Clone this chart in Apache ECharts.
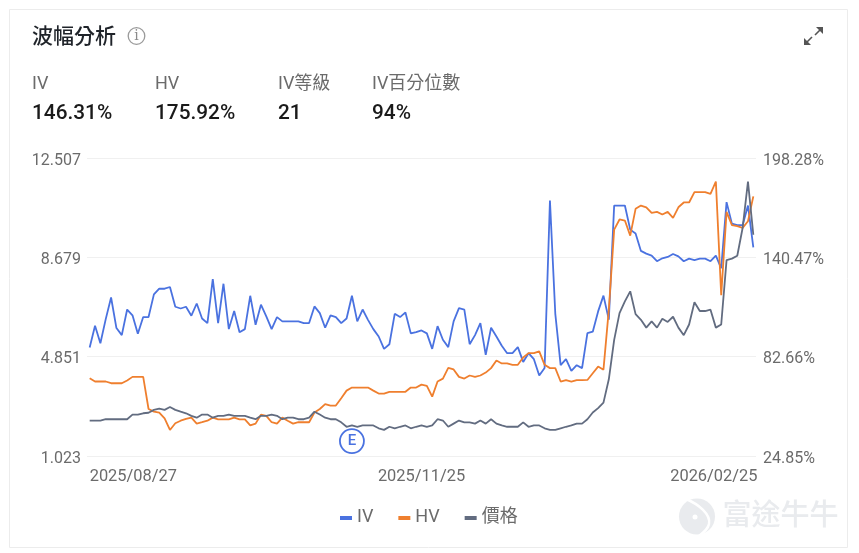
<!DOCTYPE html>
<html><head><meta charset="utf-8">
<style>html,body{margin:0;padding:0;background:#fff}#c{width:859px;height:553px}</style>
<script src="https://cdn.jsdelivr.net/npm/echarts@6/dist/echarts.min.js"></script>
</head><body><div id="c"></div>
<script>
const dates = ["2025/08/27","2025/08/28","2025/08/29",
"2025/09/02","2025/09/03","2025/09/04","2025/09/05","2025/09/08","2025/09/09","2025/09/10","2025/09/11","2025/09/12","2025/09/15","2025/09/16","2025/09/17","2025/09/18","2025/09/19","2025/09/22","2025/09/23","2025/09/24","2025/09/25","2025/09/26","2025/09/29","2025/09/30",
"2025/10/01","2025/10/02","2025/10/03","2025/10/06","2025/10/07","2025/10/08","2025/10/09","2025/10/10","2025/10/13","2025/10/14","2025/10/15","2025/10/16","2025/10/17","2025/10/20","2025/10/21","2025/10/22","2025/10/23","2025/10/24","2025/10/27","2025/10/28","2025/10/29","2025/10/30","2025/10/31",
"2025/11/04","2025/11/05","2025/11/06","2025/11/07","2025/11/10","2025/11/11","2025/11/12","2025/11/13","2025/11/14","2025/11/17","2025/11/18","2025/11/19","2025/11/20","2025/11/21","2025/11/24","2025/11/25","2025/11/26","2025/11/27","2025/11/28",
"2025/12/01","2025/12/02","2025/12/03","2025/12/04","2025/12/05","2025/12/08","2025/12/09","2025/12/10","2025/12/11","2025/12/12","2025/12/15","2025/12/16","2025/12/17","2025/12/18","2025/12/19","2025/12/22","2025/12/23","2025/12/24","2025/12/26","2025/12/29","2025/12/30","2025/12/31",
"2026/01/02","2026/01/05","2026/01/06","2026/01/07","2026/01/08","2026/01/09","2026/01/12","2026/01/13","2026/01/14","2026/01/15","2026/01/16","2026/01/20","2026/01/21","2026/01/22","2026/01/23","2026/01/26","2026/01/27","2026/01/28","2026/01/29","2026/01/30",
"2026/02/02","2026/02/03","2026/02/04","2026/02/05","2026/02/06","2026/02/09","2026/02/10","2026/02/11","2026/02/12","2026/02/13","2026/02/17","2026/02/18","2026/02/19","2026/02/20","2026/02/23","2026/02/24","2026/02/25"];
const dateLabels = ["2025/08/27","2025/11/25","2026/02/25"];
const ivValues = [88.0,100.6,90.5,104.5,117.1,99.3,95.2,110.1,106.7,96.0,105.7,105.7,118.9,122.2,122.2,123.2,111.7,110.7,111.7,106.5,113.6,104.9,102.2,127.8,102.2,125.1,98.7,109.2,96.9,98.7,118.1,101.2,112.9,106.1,98.7,105.7,103.2,103.2,103.2,103.2,102.2,102.2,111.9,108.0,99.5,106.7,105.7,102.2,104.9,118.1,103.2,
110.1,104.1,98.7,94.4,87.2,89.9,107.6,105.7,108.4,96.2,96.9,97.9,96.2,87.2,100.4,92.5,88.2,103.2,110.9,110.1,89.9,95.2,102.2,83.7,99.5,94.4,89.0,84.7,84.7,88.2,79.6,84.7,81.2,71.7,76.1,173.5,107.6,77.7,81.2,74.4,77.7,76.0,
96.4,97.2,109.0,118.2,104.2,170.6,170.6,170.6,156.6,154.3,144.2,142.6,141.5,138.2,139.9,140.7,142.4,141.0,138.2,139.7,138.9,139.7,139.7,138.2,141.5,134.1,172.6,160.1,159.2,159.2,170.6,146.31];
const hvValues = [70.1,68.2,68.2,68.2,67.2,67.2,67.2,68.8,70.9,70.9,70.9,52.2,50.7,50.1,46.8,40.0,43.9,45.4,46.4,47.2,43.7,44.5,45.4,47.2,46.2,46.2,46.2,47.2,46.2,46.2,42.7,43.7,48.9,48.2,44.5,43.7,47.2,45.4,43.7,44.5,44.5,44.5,50.1,52.2,55.0,54.2,54.2,58.5,62.9,64.7,64.7,
64.7,64.7,62.9,61.2,61.2,62.2,62.2,62.2,62.2,64.7,64.7,66.4,65.7,59.4,68.2,69.9,76.1,75.2,70.9,69.9,71.7,70.9,71.7,73.4,76.0,80.4,78.7,78.7,77.9,77.9,82.2,84.7,84.7,85.7,77.9,76.0,76.0,68.2,69.0,68.2,69.0,69.0,
69.1,73.0,76.9,75.1,110.0,156.6,162.5,161.9,153.1,168.7,170.6,169.6,166.3,166.9,165.4,166.9,163.4,169.6,172.4,172.4,178.4,178.4,178.4,177.4,184.6,118.5,166.9,159.2,158.6,157.6,161.5,175.92];
const priceValues = [2.39,2.39,2.39,2.44,2.44,2.44,2.44,2.44,2.62,2.62,2.67,2.69,2.80,2.85,2.80,2.91,2.80,2.73,2.67,2.57,2.50,2.62,2.62,2.50,2.57,2.57,2.62,2.57,2.57,2.57,2.50,2.44,2.57,2.57,2.62,2.57,2.44,2.50,2.50,2.44,2.44,2.50,2.73,2.62,2.50,2.44,2.44,2.32,2.15,2.20,2.15,
2.20,2.20,2.20,2.09,2.03,2.15,2.09,2.15,2.20,2.09,2.15,2.20,2.15,2.20,2.44,2.39,2.15,2.27,2.39,2.32,2.32,2.27,2.39,2.27,2.44,2.27,2.20,2.15,2.15,2.15,2.32,2.15,2.20,2.20,2.09,2.03,2.03,2.09,2.15,2.20,2.27,2.27,
2.44,2.70,2.87,3.08,3.98,5.50,6.53,6.98,7.37,6.49,6.27,5.97,6.21,5.97,6.31,6.19,6.39,5.97,5.68,6.09,6.95,6.61,6.61,6.66,5.97,6.09,8.57,8.63,8.74,9.81,11.60,9.55];
const leftTicks = [1.023,4.851,8.679,12.507];
const rightTicks = [24.85,82.66,140.47,198.28];
const earningsDate = "2025/11/06";
const earningsLevel = 1.6;
const kpis = [["IV","146.31%"],["HV","175.92%"],["IV等級","21"],["IV百分位數","94%"]];

const FF = 'Roboto,"Noto Sans CJK TC",sans-serif';
const kpiX = [32,155,278,372];
const GREY='#6b6b6b';
const gfx = [
 {type:'rect',shape:{x:9.5,y:9.5,width:838,height:538},style:{fill:'#fff',stroke:'#ececec',lineWidth:1},z:-10},
 {type:'text',x:32,y:27,style:{text:'波幅分析',font:'500 21px '+FF,fill:'#1f2329'}},
 {type:'circle',shape:{cx:136.5,cy:36,r:8.3},style:{fill:'none',stroke:'#9a9a9a',lineWidth:1.3}},
 {type:'text',x:136.5,y:36,style:{text:'i',font:'14px "DejaVu Serif"',fill:'#8a8a8a',align:'center',verticalAlign:'middle'}},
 {type:'polygon',shape:{points:[[816,27],[823,27],[823,34]]},style:{fill:'#555'}},
 {type:'line',shape:{x1:820,y1:30,x2:815,y2:35},style:{stroke:'#555',lineWidth:1.6}},
 {type:'polygon',shape:{points:[[804,38],[804,45],[811,45]]},style:{fill:'#555'}},
 {type:'line',shape:{x1:807,y1:42,x2:812,y2:37},style:{stroke:'#555',lineWidth:1.6}},
 {type:'circle',shape:{cx:697,cy:516.5,r:18},style:{fill:'#e9ebee'},z:-5},
 {type:'bezierCurve',shape:{x1:686,y1:499,cpx1:698,cpy1:504,cpx2:711,cpy2:514,x2:709,y2:524},style:{fill:'none',stroke:'#fff',lineWidth:2.5},z:-4},
 {type:'bezierCurve',shape:{x1:709,y1:524,cpx1:708,cpy1:529,cpx2:704,cpy2:532,x2:699,y2:536},style:{fill:'none',stroke:'#fff',lineWidth:2.5},z:-4},
 {type:'circle',shape:{cx:695,cy:517,r:2.5},style:{fill:'#fff'},z:-4},
 {type:'text',x:722.5,y:499,style:{text:'富途牛牛',font:'500 29px "Noto Sans CJK TC"',fill:'#e9ebee'},z:-5}
];
kpis.forEach((k,i)=>{
 gfx.push({type:'text',x:kpiX[i],y:76,style:{text:k[0],font:'18px '+FF,fill:GREY}});
 gfx.push({type:'text',x:kpiX[i],y:103,style:{text:k[1],font:'500 20.8px '+FF,fill:'#1a1a1a'}});
});
const mk = (name,data,color,axis,extra)=>Object.assign({name,type:'line',data,yAxisIndex:axis,showSymbol:false,symbol:'none',smooth:false,
  lineStyle:{color,width:1.8},itemStyle:{color},animation:false},extra||{});
const yBase = (ticks,fmt,margin)=>({type:'value',min:ticks[0],max:ticks[3],
  axisLine:{show:false},axisTick:{show:false,customValues:ticks},
  splitLine:{show:true,lineStyle:{color:'#f0f0f0',width:1}},
  axisLabel:{customValues:ticks,formatter:fmt,color:GREY,fontSize:16,fontFamily:FF,margin,verticalAlign:'top',lineHeight:5}});
const chart = echarts.init(document.getElementById('c'));
chart.setOption({
 animation:false,backgroundColor:'#fff',
 graphic:{elements:gfx},
 grid:{left:87,top:158,width:669,height:298,containLabel:false},
 legend:{left:340,top:509,padding:0,icon:'rect',itemWidth:12,itemHeight:4,itemGap:25,itemStyle:{borderWidth:0},
   textStyle:{color:GREY,fontSize:18,fontFamily:FF},data:['IV','HV','價格']},
 xAxis:{type:'category',data:dates,boundaryGap:true,
   axisLine:{show:false},axisTick:{show:false},splitLine:{show:false},
   axisLabel:{color:GREY,fontSize:16.4,fontFamily:FF,margin:13,alignMinLabel:'left',alignMaxLabel:'center',
     interval:(i,v)=>dateLabels.includes(v),showMinLabel:true,showMaxLabel:true,hideOverlap:false,
     formatter:v=>v===dateLabels[2]?'{r|'+v+'}':v,
     rich:{r:{color:GREY,fontSize:16.4,fontFamily:FF,padding:[0,79,0,0]}}}},
 yAxis:[yBase(leftTicks,v=>v.toFixed(3),6),yBase(rightTicks,v=>v.toFixed(2)+'%',7)],
 series:[
  mk('IV',ivValues,'#4a72e0',1),
  mk('HV',hvValues,'#ef7f2e',1),
  mk('價格',priceValues,'#626c80',0,{markPoint:{symbol:'circle',symbolSize:24,animation:false,silent:true,
     itemStyle:{color:'#fff',borderColor:'#4a72e0',borderWidth:1.8},
     label:{show:true,formatter:'E',color:'#4a72e0',fontSize:15,fontWeight:500,fontFamily:FF,position:'inside'},
     data:[{coord:[earningsDate,earningsLevel]}]}})
 ]
});
</script></body></html>
